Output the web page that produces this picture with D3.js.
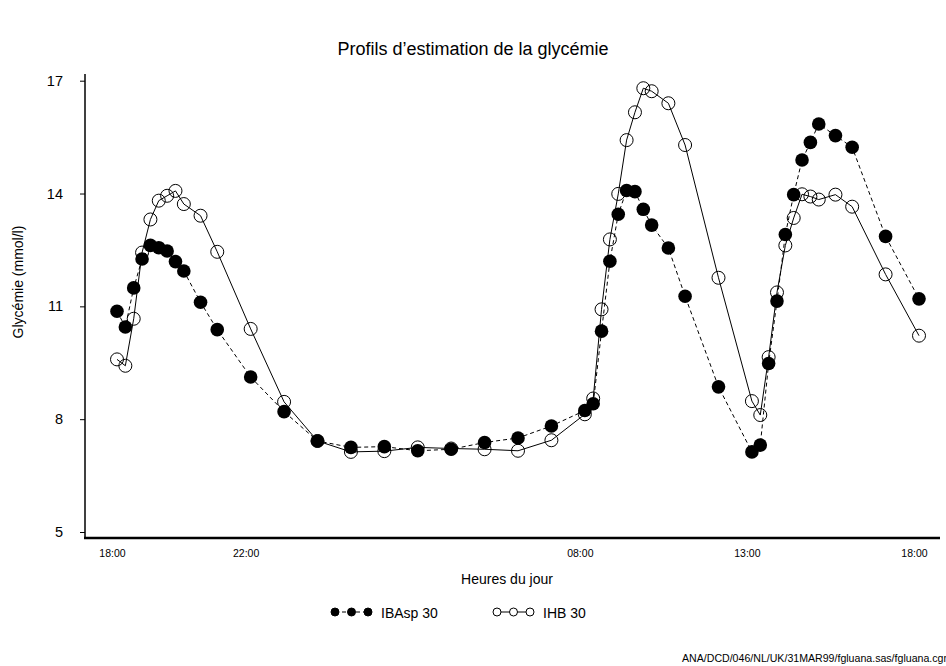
<!DOCTYPE html>
<html>
<head>
<meta charset="utf-8">
<script src="https://cdn.jsdelivr.net/npm/d3@7"></script>
<style>
    body { margin: 0; background: #fff; }
    svg { display: block; font-family: "Liberation Sans", Arial, sans-serif; }
</style>
</head>
<body>
<svg id="chart"></svg>
<script>
// Hours after 18:00 for each measurement
const hours = [0, 0.25, 0.5, 0.75, 1, 1.25, 1.5, 1.75, 2, 2.5, 3, 4, 5, 6, 7, 8, 9, 10, 11, 12,
    13, 14, 14.25, 14.5, 14.75, 15, 15.25, 15.5, 15.75, 16, 16.5, 17, 18, 19, 19.25, 19.5, 19.75,
    20, 20.25, 20.5, 20.75, 21, 21.5, 22, 23, 24];

// IBAsp 30 (filled circles, dashed line)
const ibasp = [10.87, 10.45, 11.49, 12.26, 12.62, 12.56, 12.47, 12.19, 11.94, 11.11,
    10.38, 9.12, 8.20, 7.42, 7.25, 7.27, 7.16, 7.20, 7.38, 7.50,
    7.82, 8.23, 8.41, 10.34, 12.20, 13.45, 14.08, 14.05, 13.58, 13.16,
    12.55, 11.27, 8.86, 7.13, 7.31, 9.48, 11.14, 12.91, 13.97, 14.89,
    15.36, 15.85, 15.54, 15.23, 12.86, 11.20];

// IHB 30 (open circles, solid line)
const ihb = [9.59, 9.42, 10.67, 12.43, 13.31, 13.81, 13.94, 14.07, 13.72, 13.41,
    12.45, 10.40, 8.46, 7.42, 7.13, 7.15, 7.25, 7.22, 7.20, 7.16,
    7.44, 8.13, 8.55, 10.92, 12.78, 13.99, 15.42, 16.16, 16.80, 16.72,
    16.40, 15.29, 11.76, 8.48, 8.11, 9.65, 11.37, 12.62, 13.35, 13.98,
    13.92, 13.84, 13.97, 13.65, 11.85, 10.22];

// Tick positions and labels
const xTicks = [0, 4, 14, 19, 24];
const xTickLabels = ['18:00', '22:00', '08:00', '13:00', '18:00'];
const yTicks = [5, 8, 11, 14, 17];

const width = 946,
      height = 666;

const svg = d3.select('#chart')
    .attr('width', width)
    .attr('height', height);

// Scales
const x = d3.scaleLinear().domain([0, 24]).range([117, 919]);
const y = d3.scaleLinear().domain([5, 17]).range([532, 80.7]);

// Title
svg.append('text')
    .attr('x', 473).attr('y', 55)
    .attr('text-anchor', 'middle')
    .attr('font-size', 18)
    .text('Profils d\u2019estimation de la glycémie');

// Y axis
const yAxis = svg.append('g')
    .attr('transform', 'translate(85,0)')
    .call(d3.axisLeft(y).tickValues(yTicks).tickSize(5).tickPadding(17));
yAxis.select('.domain').remove();
yAxis.selectAll('line').attr('stroke', '#000');
yAxis.selectAll('text')
    .attr('font-size', 14.5)
    .attr('font-family', '"Liberation Sans", Arial, sans-serif')
    .attr('fill', '#000');

svg.append('line')
    .attr('x1', 85).attr('x2', 85)
    .attr('y1', 74).attr('y2', 539)
    .attr('stroke', '#000').attr('stroke-width', 1.5);

// X axis (labels only, no tick marks)
const xAxis = svg.append('g')
    .attr('transform', 'translate(0,538)')
    .call(d3.axisBottom(x).tickValues(xTicks).tickSize(0).tickPadding(12)
        .tickFormat((d, i) => xTickLabels[i]));
xAxis.select('.domain').remove();
xAxis.selectAll('text')
    .attr('dx', -5)
    .attr('font-size', 10.5)
    .attr('font-family', '"Liberation Sans", Arial, sans-serif')
    .attr('fill', '#000');

svg.append('line')
    .attr('x1', 84).attr('x2', 940)
    .attr('y1', 538).attr('y2', 538)
    .attr('stroke', '#000').attr('stroke-width', 2.5);

// Axis titles
svg.append('text')
    .attr('transform', 'translate(23,282) rotate(-90)')
    .attr('text-anchor', 'middle')
    .attr('font-size', 14)
    .text('Glycémie (mmol/l)');

svg.append('text')
    .attr('x', 507).attr('y', 584)
    .attr('text-anchor', 'middle')
    .attr('font-size', 14)
    .text('Heures du jour');

const line = d3.line()
    .x((d, i) => x(hours[i]))
    .y(d => y(d));

// IHB 30 series
svg.append('path')
    .datum(ihb)
    .attr('fill', 'none')
    .attr('stroke', '#000')
    .attr('stroke-width', 1)
    .attr('d', line);

svg.append('g').selectAll('circle')
    .data(ihb)
    .enter()
    .append('circle')
    .attr('cx', (d, i) => x(hours[i]))
    .attr('cy', d => y(d))
    .attr('r', 6.5)
    .attr('fill', 'none')
    .attr('stroke', '#000')
    .attr('stroke-width', 1);

// IBAsp 30 series
svg.append('path')
    .datum(ibasp)
    .attr('fill', 'none')
    .attr('stroke', '#000')
    .attr('stroke-width', 1)
    .attr('stroke-dasharray', '4,3')
    .attr('d', line);

svg.append('g').selectAll('circle')
    .data(ibasp)
    .enter()
    .append('circle')
    .attr('cx', (d, i) => x(hours[i]))
    .attr('cy', d => y(d))
    .attr('r', 6.8)
    .attr('fill', '#000');

// Legend
const legend = [
    {label: 'IBAsp 30', x0: 335, tx: 381, filled: true},
    {label: 'IHB 30', x0: 497, tx: 543, filled: false}
];

legend.forEach(item => {
    const g = svg.append('g');
    g.append('line')
        .attr('x1', item.x0).attr('x2', item.x0 + 33)
        .attr('y1', 612).attr('y2', 612)
        .attr('stroke', '#000')
        .attr('stroke-width', 1)
        .attr('stroke-dasharray', item.filled ? '4,3' : null);
    [0, 16.5, 33].forEach(dx => {
        g.append('circle')
            .attr('cx', item.x0 + dx).attr('cy', 612)
            .attr('r', 4)
            .attr('fill', item.filled ? '#000' : '#fff')
            .attr('stroke', '#000')
            .attr('stroke-width', 1);
    });
    g.append('text')
        .attr('x', item.tx).attr('y', 618)
        .attr('font-size', 14)
        .text(item.label);
});

// Footer reference (runs past the right edge as in the original)
svg.append('text')
    .attr('x', 682).attr('y', 662)
    .attr('font-size', 10.6)
    .text('ANA/DCD/046/NL/UK/31MAR99/fgluana.sas/fgluana.cgm');
</script>
</body>
</html>
